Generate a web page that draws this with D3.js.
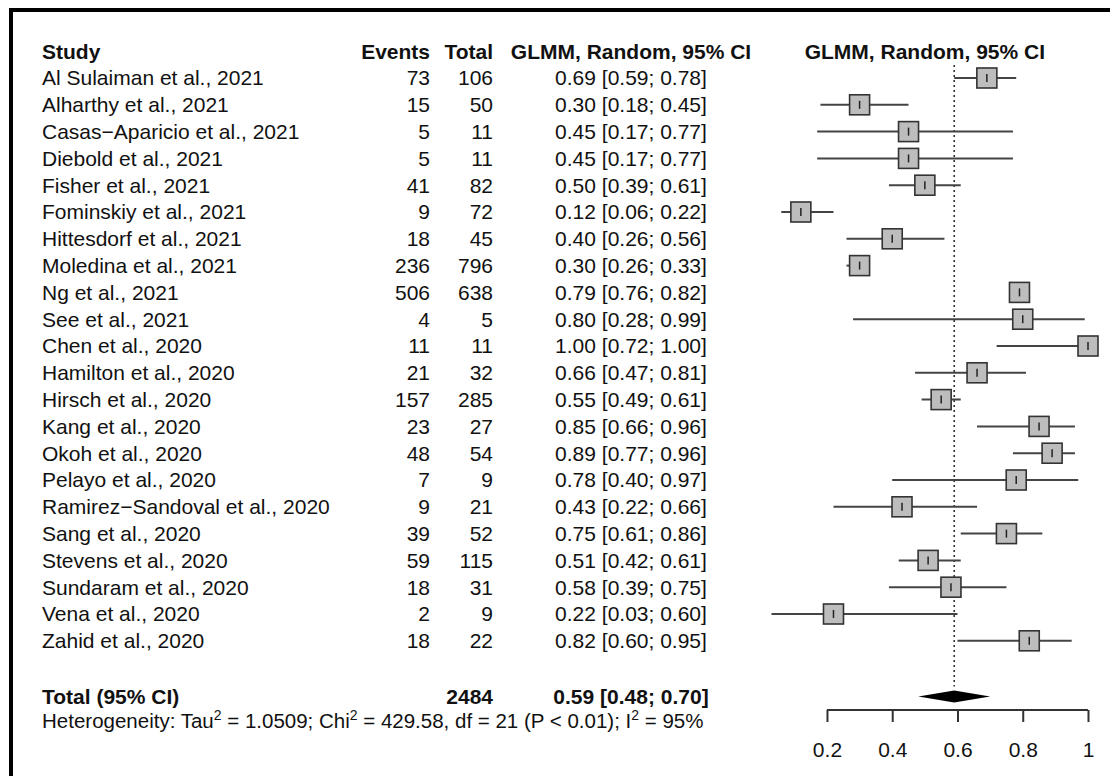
<!DOCTYPE html>
<html>
<head>
<meta charset="utf-8">
<script src="https://cdn.jsdelivr.net/npm/d3@7"></script>
<style>
  body { margin: 0; background: #fff; }
  svg { display: block; font-family: "Liberation Sans", Arial, sans-serif; }
</style>
</head>
<body>
<div id="chart"></div>
<script>
const studies = ["Al Sulaiman et al., 2021", "Alharthy et al., 2021", "Casas\u2212Aparicio et al., 2021",
  "Diebold et al., 2021", "Fisher et al., 2021", "Fominskiy et al., 2021", "Hittesdorf et al., 2021",
  "Moledina et al., 2021", "Ng et al., 2021", "See et al., 2021", "Chen et al., 2020",
  "Hamilton et al., 2020", "Hirsch et al., 2020", "Kang et al., 2020", "Okoh et al., 2020",
  "Pelayo et al., 2020", "Ramirez\u2212Sandoval et al., 2020", "Sang et al., 2020",
  "Stevens et al., 2020", "Sundaram et al., 2020", "Vena et al., 2020", "Zahid et al., 2020"];
const events = [73, 15, 5, 5, 41, 9, 18, 236, 506, 4, 11, 21, 157, 23, 48, 7, 9, 39, 59, 18, 2, 18];
const totals = [106, 50, 11, 11, 82, 72, 45, 796, 638, 5, 11, 32, 285, 27, 54, 9, 21, 52, 115, 31, 9, 22];
const estimates = [0.69, 0.30, 0.45, 0.45, 0.50, 0.12, 0.40, 0.30, 0.79, 0.80, 1.00, 0.66, 0.55, 0.85, 0.89, 0.78, 0.43, 0.75, 0.51, 0.58, 0.22, 0.82];
const lowers = [0.59, 0.18, 0.17, 0.17, 0.39, 0.06, 0.26, 0.26, 0.76, 0.28, 0.72, 0.47, 0.49, 0.66, 0.77, 0.40, 0.22, 0.61, 0.42, 0.39, 0.03, 0.60];
const uppers = [0.78, 0.45, 0.77, 0.77, 0.61, 0.22, 0.56, 0.33, 0.82, 0.99, 1.00, 0.81, 0.61, 0.96, 0.96, 0.97, 0.66, 0.86, 0.61, 0.75, 0.60, 0.95];
const pooled = { total: 2484, est: 0.59, lower: 0.48, upper: 0.70 };
const ticks = [0.2, 0.4, 0.6, 0.8, 1];
const tickLabels = ["0.2", "0.4", "0.6", "0.8", "1"];

const width = 1110, height = 776;
const fs = 21;
const fmt = d3.format(".2f");

const svg = d3.select("#chart").append("svg")
  .attr("width", width).attr("height", height);

// frame
svg.append("rect")
  .attr("x", 11).attr("y", 10)
  .attr("width", 1130).attr("height", 800)
  .attr("fill", "none").attr("stroke", "#000").attr("stroke-width", 4);

const x = d3.scaleLinear().domain([0, 1]).range([761.7, 1088]);
const y = d3.scaleLinear().domain([0, 1]).range([78, 104.8]);  // row index -> center

const colStudy = 42, colEvents = 430, colTotal = 493, colCI = 631;

const g = svg.append("g").style("font-size", fs + "px").attr("fill", "#111");

// headers
const hy = y(-1);
g.append("text").attr("x", colStudy).attr("y", hy).attr("dy", "0.35em").attr("font-weight", "bold").text("Study");
g.append("text").attr("x", colEvents).attr("y", hy).attr("dy", "0.35em").attr("font-weight", "bold").attr("text-anchor", "end").text("Events");
g.append("text").attr("x", colTotal).attr("y", hy).attr("dy", "0.35em").attr("font-weight", "bold").attr("text-anchor", "end").text("Total");
g.append("text").attr("x", colCI).attr("y", hy).attr("dy", "0.35em").attr("font-weight", "bold").attr("text-anchor", "middle").text("GLMM, Random, 95% CI");
g.append("text").attr("x", (x(0) + x(1)) / 2).attr("y", hy).attr("dy", "0.35em").attr("font-weight", "bold").attr("text-anchor", "middle").text("GLMM, Random, 95% CI");

// rows
const rows = g.selectAll(".row").data(studies).join("g").attr("class", "row")
  .attr("transform", (d, i) => `translate(0,${y(i)})`);
rows.append("text").attr("x", colStudy).attr("dy", "0.35em").text(d => d);
rows.append("text").attr("x", colEvents).attr("dy", "0.35em").attr("text-anchor", "end").text((d, i) => events[i]);
rows.append("text").attr("x", colTotal).attr("dy", "0.35em").attr("text-anchor", "end").text((d, i) => totals[i]);
rows.append("text").attr("x", colCI).attr("dy", "0.35em").attr("text-anchor", "middle")
  .text((d, i) => `${fmt(estimates[i])} [${fmt(lowers[i])}; ${fmt(uppers[i])}]`);

// reference line at pooled estimate
svg.append("line")
  .attr("x1", x(pooled.est)).attr("x2", x(pooled.est))
  .attr("y1", y(0) - 13).attr("y2", y(23) - 8)
  .attr("stroke", "#333").attr("stroke-width", 1.6).attr("stroke-dasharray", "2,3");

// CI lines, squares, estimate ticks
const marks = svg.append("g").selectAll("g").data(studies).join("g")
  .attr("transform", (d, i) => `translate(0,${y(i)})`);
marks.append("line")
  .attr("x1", (d, i) => x(lowers[i])).attr("x2", (d, i) => x(uppers[i]))
  .attr("stroke", "#444").attr("stroke-width", 2);
marks.append("rect")
  .attr("x", (d, i) => x(estimates[i]) - 10).attr("y", -10)
  .attr("width", 20).attr("height", 20)
  .attr("fill", "#bdbdbd").attr("stroke", "#333").attr("stroke-width", 1.6);
marks.append("line")
  .attr("x1", (d, i) => x(estimates[i])).attr("x2", (d, i) => x(estimates[i]))
  .attr("y1", -4).attr("y2", 4)
  .attr("stroke", "#222").attr("stroke-width", 1.5);

// pooled row
const ty = y(23) + 2;
g.append("text").attr("x", colStudy).attr("y", ty).attr("dy", "0.35em").attr("font-weight", "bold").text("Total (95% CI)");
g.append("text").attr("x", colTotal).attr("y", ty).attr("dy", "0.35em").attr("font-weight", "bold").attr("text-anchor", "end").text(pooled.total);
g.append("text").attr("x", colCI).attr("y", ty).attr("dy", "0.35em").attr("font-weight", "bold").attr("text-anchor", "middle")
  .text(`${fmt(pooled.est)} [${fmt(pooled.lower)}; ${fmt(pooled.upper)}]`);

svg.append("path")
  .attr("d", d3.line()([[x(pooled.lower), ty], [x(pooled.est), ty - 6], [x(pooled.upper), ty], [x(pooled.est), ty + 6]]) + "Z")
  .attr("fill", "#000");

// heterogeneity
const het = g.append("text").attr("x", colStudy).attr("y", ty + 32).style("font-size", "20.5px");
const parts = ["Heterogeneity: Tau", "2", " = 1.0509; Chi", "2", " = 429.58, df = 21 (P < 0.01); I", "2", " = 95%"];
parts.forEach((t, i) => {
  const sup = i % 2 === 1;
  het.append("tspan")
    .attr("dy", i === 0 ? 0 : (sup ? -8 : 8))
    .style("font-size", sup ? "14px" : null)
    .text(t);
});

// axis
const axisY = 710;
const axis = svg.append("g").attr("transform", `translate(0,${axisY})`)
  .call(d3.axisBottom(x).tickValues(ticks).tickFormat((d, i) => tickLabels[i]).tickSize(12).tickPadding(20).tickSizeOuter(0));
axis.select(".domain").attr("d", `M${x(0.2)},0H${x(1)}`).attr("stroke", "#333").attr("stroke-width", 2);
axis.selectAll(".tick line").attr("stroke", "#333").attr("stroke-width", 2);
axis.selectAll(".tick text").attr("fill", "#111").style("font-size", fs + "px")
  .style("font-family", "\"Liberation Sans\", Arial, sans-serif");
</script>
</body>
</html>
